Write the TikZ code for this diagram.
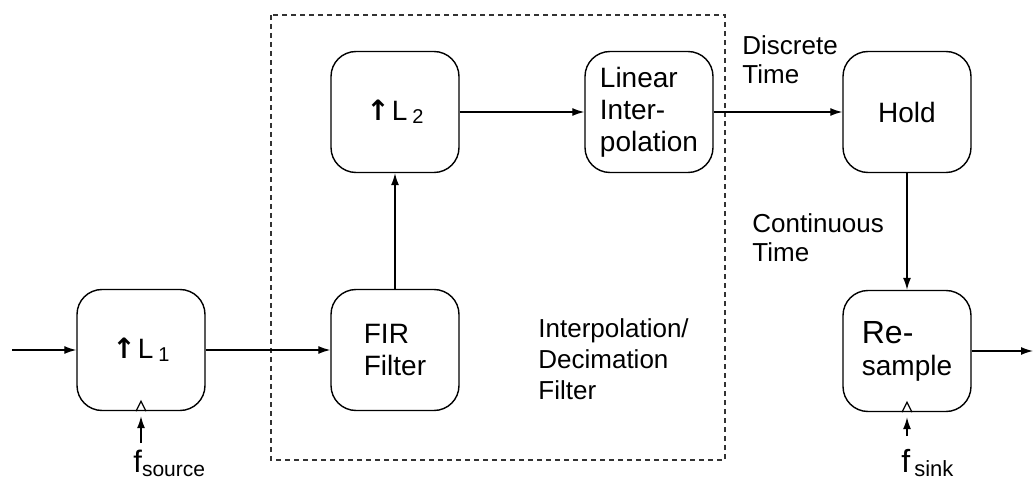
\documentclass[tikz,border=0pt]{standalone}
\usepackage{fontspec}
\setmainfont{Liberation Sans}
\newfontfamily\arrowfont{DejaVu Sans}
\usetikzlibrary{arrows.meta}
\newcommand{\uparr}{{\arrowfont\fontsize{14}{14}\selectfont\bfseries ↑}}
\begin{document}
\begin{tikzpicture}[x=0.5pt,y=-0.5pt,
  blk/.style={draw, line width=0.7pt, rounded corners=12.5pt, minimum width=64pt,
    minimum height=60.5pt, align=left, font=\fontsize{14}{16}\selectfont, inner sep=0pt},
  arr/.style={line width=0.65pt, -{Latex[length=6pt,width=4pt]}},
  lbl/.style={anchor=north west, inner sep=0pt, align=left, font=\fontsize{13}{14.5}\selectfont},
  flbl/.style={anchor=base west, inner sep=0pt},
  caret/.style={line width=0.6pt},
  frame/.style={line width=0.6pt, dash pattern=on 2.5pt off 2pt, black!80}]
\useasboundingbox (0,0) rectangle (1035,481);

% dashed frame
\draw[frame] (271,15) rectangle (725,460);

% blocks
\node[blk] (L1) at (141,350) {\uparr\kern1pt L\kern2.5pt\raisebox{-1.5pt}{\fontsize{10}{10}\selectfont 1}};
\node[blk] (FIR) at (395,350) {FIR\\Filter};
\node[blk] (L2) at (395,112) {\uparr\kern1pt L\kern2.5pt\raisebox{-1.5pt}{\fontsize{10}{10}\selectfont 2}};
\node[blk] (LI) at (649,112) {Linear\\Inter-\\polation};
\node[blk] (Hold) at (907,112) {Hold};
\node[blk] (RS) at (907,351) {\fontsize{16}{17.5}\selectfont Re-\\sample};

% free labels
\node[lbl] (dt) at (742,35) {Discrete\\Time};
\node[lbl] (ct) at (752,213) {Continuous\\Time};
\node[lbl, font=\fontsize{13}{15.5}\selectfont] (idf) at (538,318) {Interpolation/\\Decimation\\Filter};

% frequency labels
\node[flbl] (fso) at (133,472) {\fontsize{15.5}{16}\selectfont f\raisebox{-2pt}{\fontsize{10.5}{11}\selectfont source}};
\node[flbl] (fsi) at (901,472) {\fontsize{16}{16}\selectfont f\kern2pt\raisebox{-2pt}{\fontsize{11}{11}\selectfont sink}};

% coordinates for free ends
\coordinate (in) at (12,350);
\coordinate (out) at (1033,351);
\coordinate (srcin) at (141,443);
\coordinate (sinkin) at (907,436);

% connectors
\draw[arr] (in) -- (L1.west);
\draw[arr] (L1.east) -- (FIR.west);
\draw[arr] (FIR.north) -- (L2.south);
\draw[arr] (L2.east) -- (LI.west);
\draw[arr] (LI.east) -- (Hold.west);
\draw[arr] (Hold.south) -- (RS.north);
\draw[arr] (RS.east) -- (out);
\draw[arr] (srcin) -- ([yshift=-2.5pt]L1.south);
\draw[arr] (sinkin) -- ([yshift=-2.5pt]RS.south);

% open carets at clock inputs
\draw[caret] ([xshift=-2.5pt]L1.south) -- ([yshift=5pt]L1.south) -- ([xshift=2.5pt]L1.south);
\draw[caret] ([xshift=-2.5pt]RS.south) -- ([yshift=5pt]RS.south) -- ([xshift=2.5pt]RS.south);
\end{tikzpicture}
\end{document}
